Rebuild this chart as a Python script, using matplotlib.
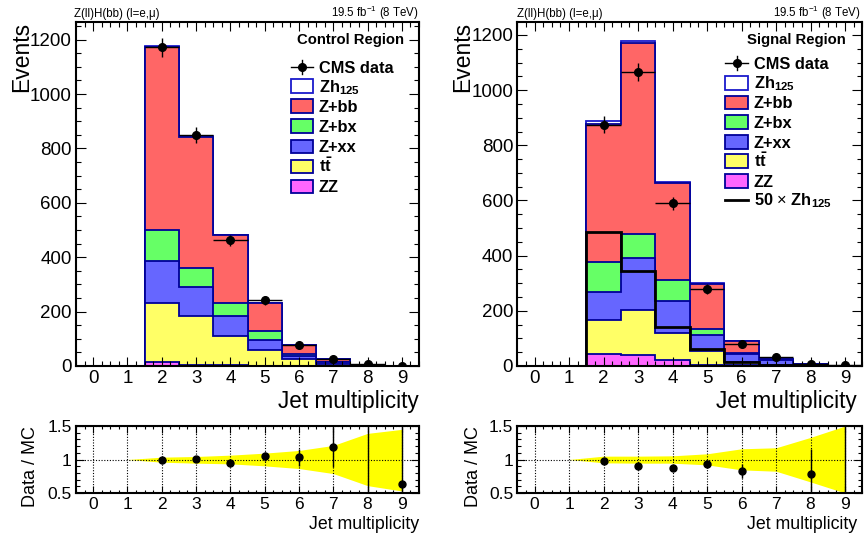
import numpy as np
import matplotlib
matplotlib.use("Agg")
import matplotlib.pyplot as plt
from matplotlib.patches import Rectangle
from matplotlib.lines import Line2D
from matplotlib.ticker import MultipleLocator

plt.rcParams.update({
    "font.family": ["Liberation Sans", "DejaVu Sans"],
    "mathtext.fontset": "custom",
    "mathtext.rm": "Liberation Sans",
    "mathtext.it": "Liberation Sans:italic",
    "mathtext.bf": "Liberation Sans:bold",
    "mathtext.sf": "Liberation Sans",
})

# ---------------------------------------------------------------- data
jets = np.arange(10)
edges = np.arange(-0.5, 10.0, 1.0)
band_x = np.arange(1, 10)
nan = np.nan

# Control region: per-process yields (stacked bottom to top)
cr_zz = [0, 0, 15, 5, 3, 1, 1, 0.5, 0.2, 0.1]
cr_tt = [0, 0, 217, 178, 109, 57, 24, 5.5, 0.8, 0.2]
cr_zxx = [0, 0, 155, 106, 72, 39, 13, 8, 2, 0.5]
cr_zbx = [0, 0, 113, 70, 46, 31, 7, 2, 0.5, 0.2]
cr_zbb = [0, 0, 672, 482, 250, 102, 33, 8, 1.5, 0.6]
cr_zh = [0, 0, 6, 4, 1, 1, 0.5, 0.2, 0, 0]
cr_data = [nan, nan, 1172, 849, 462, 241, 79, 27, 7, 1]
cr_data_err = [0, 0, 34, 29, 21, 16, 9, 5, 2.6, 1]
cr_ratio = [nan, nan, 0.99, 1.005, 0.955, 1.045, 1.03, 1.19, 1.75, 0.63]
cr_ratio_err_lo = [0, 0, 0.03, 0.035, 0.045, 0.07, 0.13, 0.3, 1.3, 0.6]
cr_ratio_err_hi = [0, 0, 0.03, 0.035, 0.045, 0.07, 0.13, 0.3, 1.3, 1.0]
cr_band_hi = [1.0, 1.035, 1.045, 1.065, 1.095, 1.135, 1.21, 1.39, 1.45]
cr_band_lo = [1.0, 0.96, 0.945, 0.935, 0.905, 0.865, 0.79, 0.61, 0.53]

# Signal region
sr_zz = [0, 0, 45, 41, 21, 5, 2, 1, 0.3, 0.1]
sr_tt = [0, 0, 121, 163, 100, 49, 14, 3, 0.7, 0.2]
sr_zxx = [0, 0, 103, 189, 115, 58, 26, 16, 4.5, 0.7]
sr_zbx = [0, 0, 108, 87, 77, 21, 5, 2, 1.0, 0.2]
sr_zbb = [0, 0, 502, 690, 352, 166, 45, 2, 0.9, 0.2]
sr_zh = [0, 0, 9.7, 6.9, 2.8, 1.2, 0.3, 0.1, 0.02, 0]
sr_data = [nan, nan, 875, 1065, 590, 279, 78, 33, 6, 5]
sr_data_err = [0, 0, 30, 33, 24, 17, 9, 6, 2.4, 2.2]
sr_ratio = [nan, nan, 0.98, 0.905, 0.88, 0.93, 0.83, nan, 0.79, 3.6]
sr_ratio_err_lo = [0, 0, 0.03, 0.03, 0.04, 0.06, 0.11, 0, 0.37, 3.2]
sr_ratio_err_hi = [0, 0, 0.03, 0.03, 0.04, 0.06, 0.11, 0, 0.37, 1.5]
sr_band_hi = [1.0, 1.05, 1.05, 1.055, 1.085, 1.16, 1.175, 1.33, 1.5]
sr_band_lo = [1.0, 0.95, 0.945, 0.945, 0.92, 0.845, 0.825, 0.665, 0.5]
signal_scale = 50

xtick_labels = [str(j) for j in jets]
ratio_ticks = [0.5, 1.0, 1.5]
ratio_tick_labels = ["0.5", "1", "1.5"]

# ---------------------------------------------------------------- style
C_ZZ, C_TT, C_ZXX, C_ZBX, C_ZBB, C_ZH = "#ff66ff", "#ffff66", "#6666ff", "#66ff66", "#ff6666", "#ffffff"
EDGE = "#000099"
EDGE_ZH = "#1a1acc"

W, H = 864, 541
fig = plt.figure(figsize=(W / 100, H / 100), dpi=100)


def px_axes(x0, x1, y0, y1):
    return fig.add_axes([x0 / W, 1 - y1 / H, (x1 - x0) / W, (y1 - y0) / H])


def style_frame(ax, major_x, minor_x, major_y, minor_y):
    for s in ax.spines.values():
        s.set_linewidth(1.5)
    ax.tick_params(which="both", direction="in", top=True, right=True, width=0.8, pad=3)
    ax.tick_params(axis="x", which="major", length=major_x)
    ax.tick_params(axis="x", which="minor", length=minor_x)
    ax.tick_params(axis="y", which="major", length=major_y)
    ax.tick_params(axis="y", which="minor", length=minor_y)
    ax.xaxis.set_minor_locator(MultipleLocator(0.25))


def draw_main(ax, comps, data, data_err, ymax, region, legend_x, legend_rows, title_pos, label_right, signal=None):
    colors = [C_ZZ, C_TT, C_ZXX, C_ZBX, C_ZBB, C_ZH]
    ecs = [EDGE, EDGE, EDGE, EDGE, EDGE, EDGE_ZH]
    cum = np.zeros(len(jets))
    cums = []
    for vals in comps:
        cum = cum + np.asarray(vals, dtype=float)
        cums.append(cum.copy())
    for c, fc, ec in reversed(list(zip(cums, colors, ecs))):
        ax.stairs(c, edges, baseline=0, fill=True, facecolor=fc, edgecolor=ec, linewidth=1.3)
    if signal is not None:
        ax.stairs(signal_scale * np.asarray(signal), edges, color="black", linewidth=2.0, zorder=3)
    ax.errorbar(jets, data, yerr=data_err, xerr=0.5, fmt="o", color="black", ms=5.5,
                elinewidth=1.0, capsize=0, zorder=4)

    ax.set_xlim(-0.5, 9.5)
    ax.set_ylim(0, ymax)
    ax.set_xticks(jets)
    ax.set_xticklabels(xtick_labels, fontsize=13.5)
    ax.yaxis.set_major_locator(MultipleLocator(200))
    ax.yaxis.set_minor_locator(MultipleLocator(50))
    ax.tick_params(axis="y", labelsize=13.5)
    style_frame(ax, 6.7, 3.6, 7.5, 3.6)

    ax.text(label_right, -0.122, "Jet multiplicity", transform=ax.transAxes,
            ha="right", va="baseline", fontsize=16.3)
    ax.text(-0.125, 1.0, "Events", transform=ax.transAxes, rotation=90,
            ha="right", va="top", fontsize=16.5)

    # region title and legend
    ax.text(title_pos[0], title_pos[1], region, transform=ax.transAxes, ha="right",
            va="center", fontsize=10.7, fontweight="bold")
    bx0, bx1, tx = legend_x
    bh = 0.040
    yoff = 0.017
    rows = iter(legend_rows)
    y = next(rows)
    ax.add_line(Line2D([bx0, bx1], [y, y], transform=ax.transAxes, color="black", lw=1.0, clip_on=False))
    ax.add_line(Line2D([(bx0 + bx1) / 2] * 2, [y - 0.02, y + 0.02], transform=ax.transAxes,
                       color="black", lw=1.0, clip_on=False))
    ax.plot([(bx0 + bx1) / 2], [y], "o", color="black", ms=5.5, transform=ax.transAxes, clip_on=False)
    ax.text(tx, y - yoff, "CMS data", transform=ax.transAxes, va="baseline", fontsize=11.8, fontweight="bold")
    entries = [
        (r"$\mathbf{Zh_{125}}$", C_ZH, EDGE_ZH),
        ("Z+bb", C_ZBB, EDGE),
        ("Z+bx", C_ZBX, EDGE),
        ("Z+xx", C_ZXX, EDGE),
        (r"$\mathbf{t\bar{t}}$", C_TT, EDGE),
        ("ZZ", C_ZZ, EDGE),
    ]
    for label, fc, ec in entries:
        y = next(rows)
        ax.add_patch(Rectangle((bx0, y - bh / 2), bx1 - bx0, bh, transform=ax.transAxes,
                               facecolor=fc, edgecolor=ec, linewidth=1.3, clip_on=False, zorder=5))
        ax.text(tx, y - yoff, label, transform=ax.transAxes, va="baseline", fontsize=11.8, fontweight="bold")
    if signal is not None:
        y = next(rows)
        ax.add_line(Line2D([bx0, bx1], [y, y], transform=ax.transAxes, color="black", lw=2.0, clip_on=False))
        ax.text(tx, y - yoff, r"50 $\times$ Zh$_{\mathbf{125}}$", transform=ax.transAxes,
                va="baseline", fontsize=11.8, fontweight="bold")


def draw_ratio(ax, ratio, err_lo, err_hi, band_lo, band_hi, label_right, ylab_x):
    ax.fill_between(band_x, band_lo, band_hi, color="#ffff00", linewidth=0, zorder=1)
    ax.set_axisbelow(False)
    ax.grid(True, which="major", color="black", linestyle=(0, (1, 1.5)), linewidth=0.8)
    ax.errorbar(jets, ratio, yerr=[err_lo, err_hi], fmt="o", color="black", ms=5,
                elinewidth=1.0, capsize=0, zorder=4)
    ax.set_xlim(-0.5, 9.5)
    ax.set_ylim(0.5, 1.5)
    ax.set_xticks(jets)
    ax.set_xticklabels(xtick_labels, fontsize=12.5)
    ax.set_yticks(ratio_ticks)
    ax.set_yticklabels(ratio_tick_labels, fontsize=12.5)
    ax.yaxis.set_minor_locator(MultipleLocator(0.1))
    style_frame(ax, 5.0, 2.5, 6.0, 3.0)
    ax.text(label_right, -0.542, "Jet multiplicity", transform=ax.transAxes,
            ha="right", va="baseline", fontsize=12.8)
    ax.text(ylab_x, 1.0, "Data / MC", transform=ax.transAxes, rotation=90,
            ha="right", va="top", fontsize=13.0)


# ---------------------------------------------------------------- panels
ax_cr = px_axes(76, 419, 22, 366)
ax_sr = px_axes(517.3, 862.3, 22, 366)
ax_crr = px_axes(76, 419, 426, 493)
ax_srr = px_axes(517.3, 862.3, 426, 493)

draw_main(ax_cr, [cr_zz, cr_tt, cr_zxx, cr_zbx, cr_zbb, cr_zh], cr_data, cr_data_err, 1265,
          "Control Region", (0.627, 0.691, 0.708),
          [0.870, 0.813, 0.755, 0.697, 0.638, 0.580, 0.522], (0.956, 0.948), 1.0)
draw_main(ax_sr, [sr_zz, sr_tt, sr_zxx, sr_zbx, sr_zbb, sr_zh], sr_data, sr_data_err, 1247,
          "Signal Region", (0.603, 0.670, 0.685),
          [0.880, 0.823, 0.766, 0.709, 0.652, 0.595, 0.538, 0.483], (0.952, 0.948), 0.985,
          signal=sr_zh)

draw_ratio(ax_crr, cr_ratio, cr_ratio_err_lo, cr_ratio_err_hi, cr_band_lo, cr_band_hi, 1.0, -0.108)
draw_ratio(ax_srr, sr_ratio, sr_ratio_err_lo, sr_ratio_err_hi, sr_band_lo, sr_band_hi, 0.985, -0.102)

# header lines above each panel
for x_left, x_right in [(74, 419), (517, 861)]:
    fig.text(x_left / W, 1 - 17 / H, "Z(ll)H(bb) (l=e,\u03bc)", ha="left", va="baseline", fontsize=8.3)
    fig.text(x_right / W, 1 - 17 / H, r"19.5 fb$^{\mathrm{-1}}$ (8 TeV)", ha="right", va="baseline",
             fontsize=8.3)

fig.savefig("out.png", dpi=100)
